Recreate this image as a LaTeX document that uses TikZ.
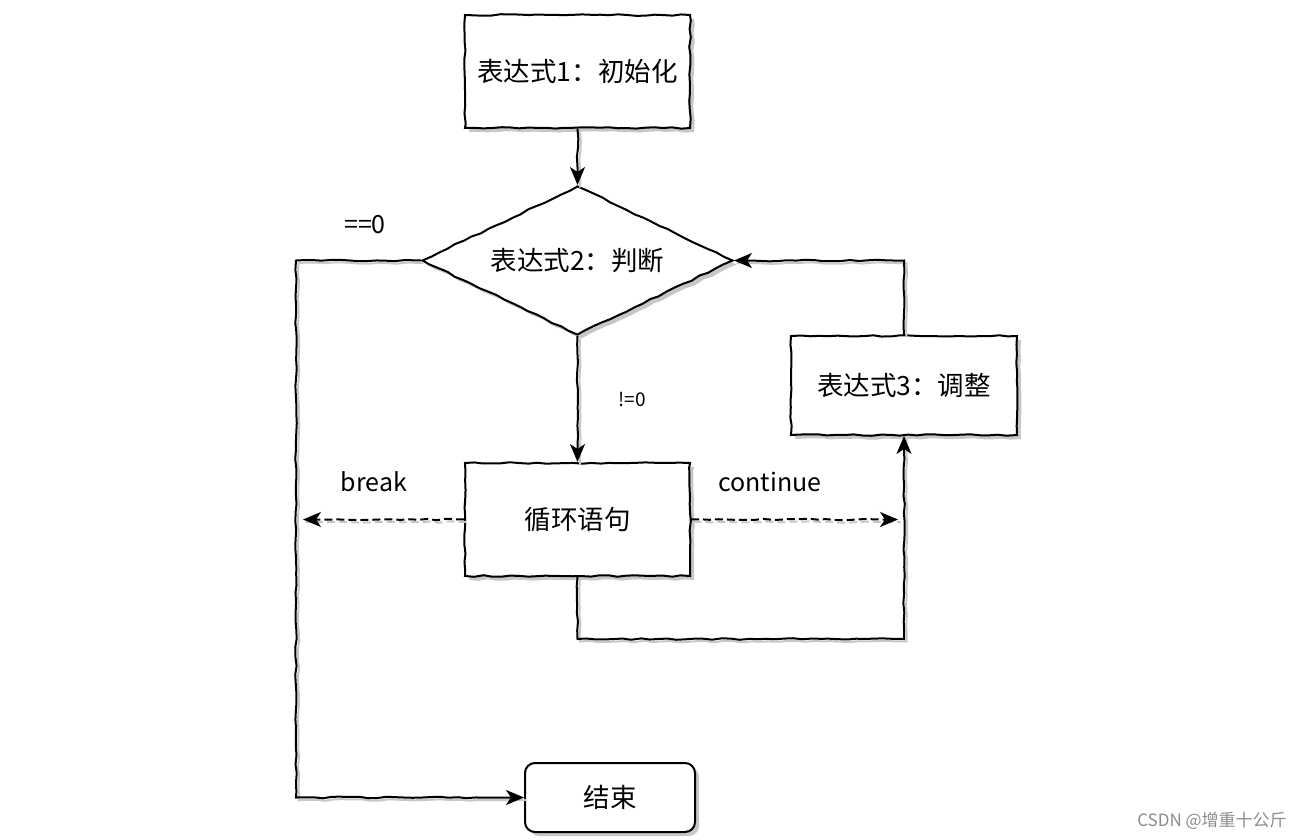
\documentclass[tikz,border=0pt]{standalone}
\usepackage{fontspec}
\setmainfont{Noto Sans CJK SC}
\usetikzlibrary{shapes.geometric,arrows.meta,decorations.pathmorphing,shadows}
\begin{document}
\begin{tikzpicture}[x=1pt,y=-1pt,
  sketch/.style={decorate,decoration={random steps,segment length=9pt,amplitude=0.8pt}},
  lsketch/.style={decorate,decoration={random steps,segment length=9pt,amplitude=0.8pt,post length=18pt}},
  shd/.style={drop shadow={shadow xshift=4pt,shadow yshift=-4pt,fill=black!22,opacity=1}},
  box/.style={draw,line width=2pt,fill=white,sketch,shd,inner sep=0pt,
    minimum width=225pt,minimum height=113pt,font=\fontsize{26.5}{30}\selectfont},
  dec/.style={diamond,aspect=2.1,draw,line width=2pt,fill=white,sketch,shd,inner sep=0pt,
    minimum width=311pt,minimum height=149pt,font=\fontsize{26.5}{30}\selectfont},
  endbox/.style={draw,line width=2pt,fill=white,shd,rounded corners=10pt,inner sep=0pt,
    minimum width=170pt,minimum height=69pt,font=\fontsize{26.5}{30}\selectfont},
  tip/.style={-{Stealth[length=18pt,width=15pt,inset=5pt]}},
  conn/.style={line width=2pt,lsketch,tip,
    preaction={draw=black!22,line width=2pt,-,transform canvas={shift={(2.5pt,-2.5pt)}}}},
  dconn/.style={line width=2pt,dash pattern=on 8pt off 4pt,lsketch,tip,
    preaction={draw=black!22,line width=2pt,dash pattern=on 8pt off 4pt,-,transform canvas={shift={(2.5pt,-2.5pt)}}}},
  lbl/.style={font=\fontsize{25}{29}\selectfont},
  slbl/.style={font=\fontsize{19}{23}\selectfont},
]
\pgfmathsetseed{7}
\useasboundingbox (0,0) rectangle (1314,840);

\node[box] (b1) at (577.5,71.5) {表达式1：初始化};
\node[dec] (d) at (577.5,260.5) {表达式2：判断};
\node[box] (loop) at (577.5,519.5) {循环语句};
\node[box,minimum width=226pt,minimum height=99pt] (b3) at (904,385.5) {表达式3：调整};
\node[endbox] (end) at (610,797.5) {结束};

\coordinate (lx) at (296,0);
\coordinate (bk) at (303,519.5);
\coordinate (ct) at (898,519.5);

\draw[conn] (b1.south) -- (d.north);
\draw[conn] (d.west) -- (d.west -| lx) |- (end.west);
\draw[conn] (d.south) -- (loop.north);
\draw[conn] (loop.south) -- ++(0,62) -| (b3.south);
\draw[conn] (b3.north) |- (d.east);
\draw[dconn] (loop.west) -- (bk);
\draw[dconn] (loop.east) -- (ct);

\node[lbl] (l0) at (365,225) {==0};
\node[slbl] (ne) at (632,400) {!=0};
\node[lbl] (brk) at (374,482) {break};
\node[lbl] (cont) at (770,482) {continue};
\node[font=\fontsize{17}{20}\selectfont,text=black!45] (wm) at (1212,821) {CSDN @增重十公斤};
\end{tikzpicture}
\end{document}
